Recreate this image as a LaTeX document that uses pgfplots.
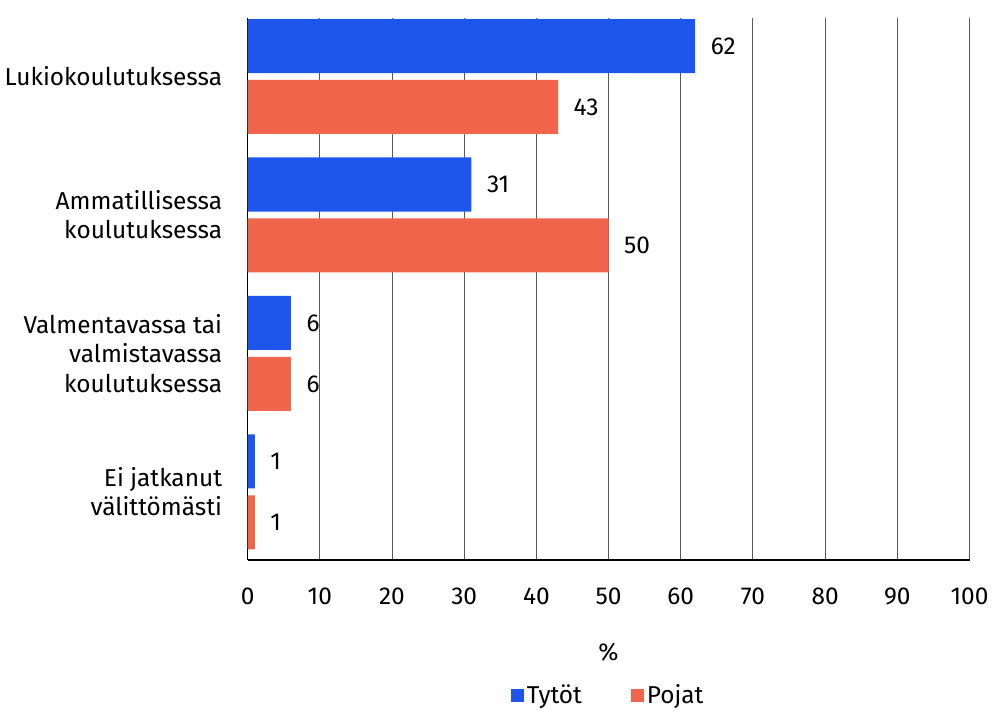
\documentclass[border=0pt]{standalone}
\usepackage{pgfplots}
\pgfplotsset{compat=1.18}
\usepackage{fontspec}
\setmainfont{Fira Sans}
\definecolor{tytot}{HTML}{1E56EB}
\definecolor{pojat}{HTML}{F2654D}
\begin{document}
\begin{tikzpicture}[font=\fontsize{18}{21.5}\selectfont]
\begin{axis}[
    xbar,
    scale only axis,
    width=532pt, height=399pt,
    xmin=0, xmax=100,
    ymin=-0.42, ymax=3.49,
    y dir=reverse,
    ytick={0,1,2,3},
    yticklabels={Lukiokoulutuksessa,
                 {Ammatillisessa\\koulutuksessa},
                 {Valmentavassa tai\\valmistavassa\\koulutuksessa},
                 {Ei jatkanut\\välittömästi}},
    yticklabel style={align=right, xshift=-11pt},
    xtick={0,10,...,100},
    xticklabel style={yshift=-17pt},
    /pgf/number format/assume math mode=true,
    xmajorgrids,
    major grid style={black!65, line width=0.7pt},
    axis x line*=bottom,
    axis y line*=left,
    axis line style={line width=1.3pt, -},
    tick style={draw=none},
    bar width=0.39,
    xlabel={\%},
    xlabel style={at={(axis description cs:0.5,-0.17)}, anchor=center},
    nodes near coords,
    point meta=explicit symbolic,
    nodes near coords style={anchor=west, xshift=8pt},
    legend style={at={(axis description cs:0.5,-0.25)}, anchor=center,
        draw=none, legend columns=2, column sep=0pt,
        /tikz/every even column/.append style={column sep=34pt}},
    legend image code/.code={\fill[#1] (0pt,-4.8pt) rectangle (9.7pt,4.9pt);},
]
\addplot[fill=tytot, draw=none, bar shift=-0.22] table[meta=v] {
x y v
62 0 62
31 1 31
6 2 6
1 3 1
};
\addplot[fill=pojat, draw=none, bar shift=0.22] table[meta=v] {
x y v
43 0 43
50 1 50
6 2 6
1 3 1
};
\legend{Tytöt, Pojat}
\end{axis}
\path (current axis.north) ++(0,13.5pt) coordinate (topmargin);
\end{tikzpicture}
\end{document}
